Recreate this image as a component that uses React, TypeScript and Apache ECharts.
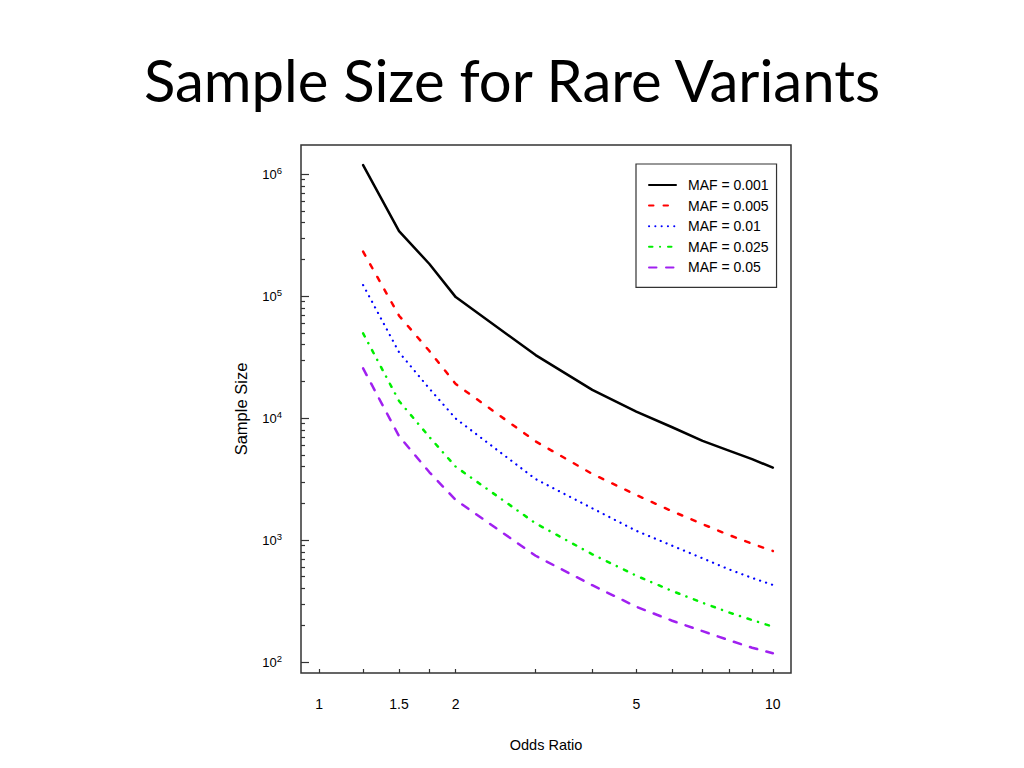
import React, { useEffect, useRef } from "react";
import * as echarts from "echarts";

// Odds ratios at which sample size was evaluated
const oddsRatios = [1.25, 1.5, 1.75, 2, 3, 4, 5, 6, 7, 8, 9, 10];

// Sample sizes (log scale)
const maf0001 = [1185000, 341000, 183000, 98000, 32800, 17000, 11300, 8400, 6500, 5400, 4600, 3920];
const maf0005 = [231000, 69000, 35400, 19000, 6440, 3480, 2340, 1720, 1350, 1100, 933, 813];
const maf001 = [123000, 34600, 17400, 9900, 3160, 1820, 1190, 898, 708, 575, 489, 428];
const maf0025 = [49400, 13800, 6990, 3990, 1370, 764, 510, 382, 306, 255, 221, 195];
const maf005 = [25500, 7100, 3590, 2130, 743, 426, 284, 218, 179, 151, 131, 118];

const seriesNames = ["MAF = 0.001", "MAF = 0.005", "MAF = 0.01", "MAF = 0.025", "MAF = 0.05"];
const seriesColors = ["#000000", "#ff0000", "#0000ff", "#00ee00", "#a020f0"];

// Axis ticks / labels
const xTickValues = [1, 1.25, 1.5, 1.75, 2, 3, 4, 5, 6, 7, 8, 9, 10];
const xLabelValues = [1, 1.5, 2, 5, 10];
const yMajorValues = [100, 1000, 10000, 100000, 1000000];
const yMinorMultipliers = [2, 3, 4, 5, 6, 7, 8, 9];
const yMinorValues = [100, 1000, 10000, 100000].flatMap((d) => yMinorMultipliers.map((m) => m * d));

const SANS = "'Liberation Sans', Arial, sans-serif";

export default function App() {
  const ref = useRef<HTMLDivElement>(null);

  useEffect(() => {
    if (!ref.current) return;
    const chart = echarts.init(ref.current, undefined, { renderer: "svg" });

    const seriesData = [maf0001, maf0005, maf001, maf0025, maf005];
    const dashes: (string | number[])[] = ["solid", [4.5, 10], [0.1, 6.2], [3.5, 7.5, 0.1, 7.9], [7.5, 9.5]];
    const widths = [2.5, 2.5, 2.2, 2.5, 2.5];

    const xMin = Math.pow(10, -0.04);
    const xMax = Math.pow(10, 1.04);
    const yMin = Math.pow(10, 1.91);
    const yMax = Math.pow(10, 6.238);

    chart.setOption({
      animation: false,
      backgroundColor: "#ffffff",
      title: {
        text: "Sample Size for Rare Variants",
        left: "center",
        top: 45,
        textStyle: {
          fontFamily: "Lato, 'Open Sans', sans-serif",
          fontSize: 58,
          fontWeight: "normal",
          color: "#000000",
        },
      },
      grid: {
        left: 301,
        top: 145,
        width: 490,
        height: 528,
        show: true,
        borderColor: "#333333",
        borderWidth: 1.5,
        backgroundColor: "transparent",
      },
      legend: {
        data: seriesNames,
        orient: "vertical",
        left: 636,
        top: 164,
        padding: [14, 8, 13, 12],
        itemWidth: 27,
        itemHeight: 14,
        itemGap: 6.6,
        borderColor: "#333333",
        borderWidth: 1.2,
        backgroundColor: "#ffffff",
        itemStyle: { opacity: 0 },
        textStyle: {
          fontFamily: SANS,
          fontSize: 14,
          color: "#000000",
          lineHeight: 14,
          padding: [0, 0, 0, 7],
        },
      },
      xAxis: {
        type: "log",
        min: xMin,
        max: xMax,
        name: "Odds Ratio",
        nameLocation: "middle",
        nameGap: 64,
        nameTextStyle: { fontFamily: SANS, fontSize: 14.5, color: "#000000" },
        axisLine: { show: false },
        splitLine: { show: false },
        axisTick: {
          show: true,
          inside: true,
          length: 4,
          customValues: xTickValues,
          lineStyle: { color: "#333333", width: 1.2 },
        },
        axisLabel: {
          customValues: xLabelValues,
          margin: 24,
          fontFamily: SANS,
          fontSize: 14,
          color: "#000000",
          formatter: (v: number) => String(v),
        },
      },
      yAxis: [
        {
          type: "log",
          min: yMin,
          max: yMax,
          name: "Sample Size",
          nameLocation: "middle",
          nameGap: 52,
          nameTextStyle: { fontFamily: SANS, fontSize: 16.5, color: "#000000" },
          axisLine: { show: false },
          splitLine: { show: false },
          axisTick: {
            show: true,
            inside: true,
            length: 8,
            customValues: yMajorValues,
            lineStyle: { color: "#333333", width: 1.2 },
          },
          axisLabel: {
            customValues: yMajorValues,
            margin: 19,
            fontFamily: SANS,
            fontSize: 13,
            color: "#000000",
            formatter: (v: number) => `{b|10}{s|${Math.round(Math.log10(v))}}`,
            rich: {
              b: { fontFamily: SANS, fontSize: 13, lineHeight: 18, color: "#000000" },
              s: { fontFamily: SANS, fontSize: 9.5, lineHeight: 10, verticalAlign: "top", color: "#000000" },
            },
          },
        },
        {
          type: "log",
          min: yMin,
          max: yMax,
          position: "left",
          axisLine: { show: false },
          splitLine: { show: false },
          axisLabel: { show: false },
          axisTick: {
            show: true,
            inside: true,
            length: 4,
            customValues: yMinorValues,
            lineStyle: { color: "#333333", width: 1.2 },
          },
        },
      ],
      series: seriesNames.map((name, i) => ({
        name,
        type: "line",
        yAxisIndex: 0,
        symbol: "none",
        showSymbol: false,
        data: oddsRatios.map((x, j) => [x, seriesData[i][j]]),
        itemStyle: { color: seriesColors[i] },
        lineStyle: { color: seriesColors[i], width: widths[i], type: dashes[i], cap: "round", join: "round" },
      })),
    });

    return () => chart.dispose();
  }, []);

  return (
    <div
      ref={ref}
      style={{ position: "fixed", left: 0, top: 0, width: 1024, height: 768 }}
    />
  );
}
